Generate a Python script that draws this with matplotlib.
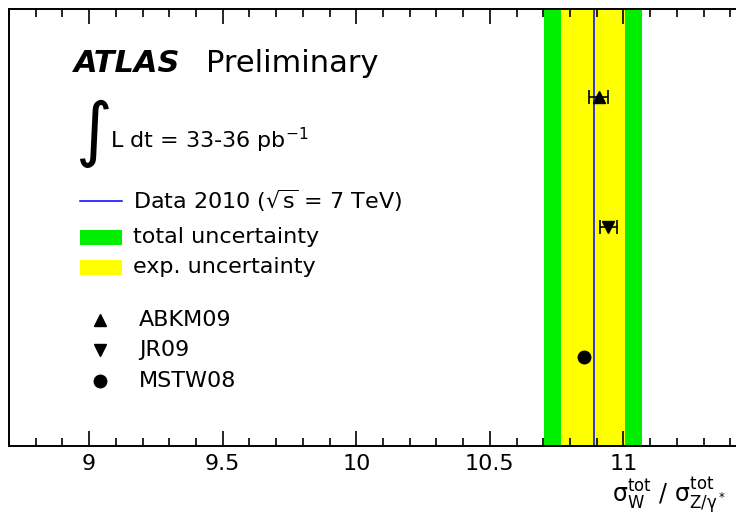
import matplotlib.pyplot as plt
from matplotlib.ticker import MultipleLocator

plt.rcParams['font.family'] = ['DejaVu Sans']
plt.rcParams['mathtext.fontset'] = 'dejavusans'

# measured ratio sigma_W / sigma_Z
data_value = 10.888
exp_band = [10.768, 11.007]
total_band = [10.704, 11.071]

# theory predictions
pdf_names = ['ABKM09', 'JR09', 'MSTW08']
pdf_values = [10.908, 10.944, 10.854]
pdf_errors = [0.036, 0.032, 0.0]
pdf_rows = [3, 2, 1]
pdf_markers = ['^', 'v', 'o']

W, H = 736, 519
fig = plt.figure(figsize=(W / 100, H / 100), dpi=100)

def px(x, y):
    return x / W, 1 - y / H

ax = fig.add_axes([9 / W, (H - 446) / H, (757 - 9) / W, (446 - 9) / H])
ax.set_xlim(8.7, 11.5)
ax.set_ylim(0.315, 3.677)

ax.axvspan(total_band[0], total_band[1], color='#00ee00', lw=0, zorder=1)
ax.axvspan(exp_band[0], exp_band[1], color='#ffff00', lw=0, zorder=2)
ax.axvline(data_value, color='#0000ff', lw=1.1, zorder=3)

for v, e, r, m in zip(pdf_values, pdf_errors, pdf_rows, pdf_markers):
    ax.errorbar(v, r, xerr=e if e > 0 else None, fmt=m, color='black',
                ms=9, capsize=4.7, elinewidth=1.2, capthick=1.2, zorder=5)

ax.xaxis.set_major_locator(MultipleLocator(0.5))
ax.xaxis.set_minor_locator(MultipleLocator(0.1))
ax.xaxis.set_major_formatter(plt.FuncFormatter(lambda v, p: ('%g' % v) if v < 11.2 else ''))
ax.tick_params(axis='x', which='major', direction='in', top=True, length=11,
               width=1.2, labelsize=16, pad=6)
ax.tick_params(axis='x', which='minor', direction='in', top=True, length=6,
               width=1.2)
ax.set_yticks([])
for s in ax.spines.values():
    s.set_linewidth(1.4)
    s.set_zorder(6)
ax.set_axisbelow(False)

# labels
fig.text(*px(74, 63), 'ATLAS', fontsize=22, fontweight='bold', style='italic',
         va='center', ha='left')
fig.text(*px(206, 63), 'Preliminary', fontsize=22, va='center', ha='left')
fig.text(*px(75, 134), r'$\int$', fontsize=36, va='center', ha='left')
fig.text(*px(110, 140), r'L dt = 33-36 pb$^{\mathregular{-1}}$', fontsize=16,
         va='center', ha='left')

fig.add_artist(plt.Line2D([80 / W, 122 / W], [1 - 201 / H, 1 - 201 / H],
                          color='#0000ff', lw=1.1))
fig.text(*px(133, 201), r'Data 2010 ($\sqrt{\mathregular{s}}$ = 7 TeV)',
         fontsize=16, va='center', ha='left')
fig.add_artist(plt.Rectangle(px(80, 245), 42 / W, 15 / H, color='#00ee00', lw=0))
fig.text(*px(133, 237), 'total uncertainty', fontsize=16, va='center', ha='left')
fig.add_artist(plt.Rectangle(px(80, 275), 42 / W, 15 / H, color='#ffff00', lw=0))
fig.text(*px(133, 267), 'exp. uncertainty', fontsize=16, va='center', ha='left')

for name, m, y in zip(pdf_names, pdf_markers, [320, 350, 381]):
    fig.add_artist(plt.Line2D([100 / W], [1 - y / H], marker=m, color='black',
                              ms=9, lw=0))
    fig.text(*px(139, y), name, fontsize=16, va='center', ha='left')

fig.text(*px(612, 495), r'$\mathregular{\sigma_W^{tot}\ /\ \sigma_{Z/\gamma^*}^{tot}}$',
         fontsize=17, va='center', ha='left')

fig.savefig('out.png', dpi=100)
